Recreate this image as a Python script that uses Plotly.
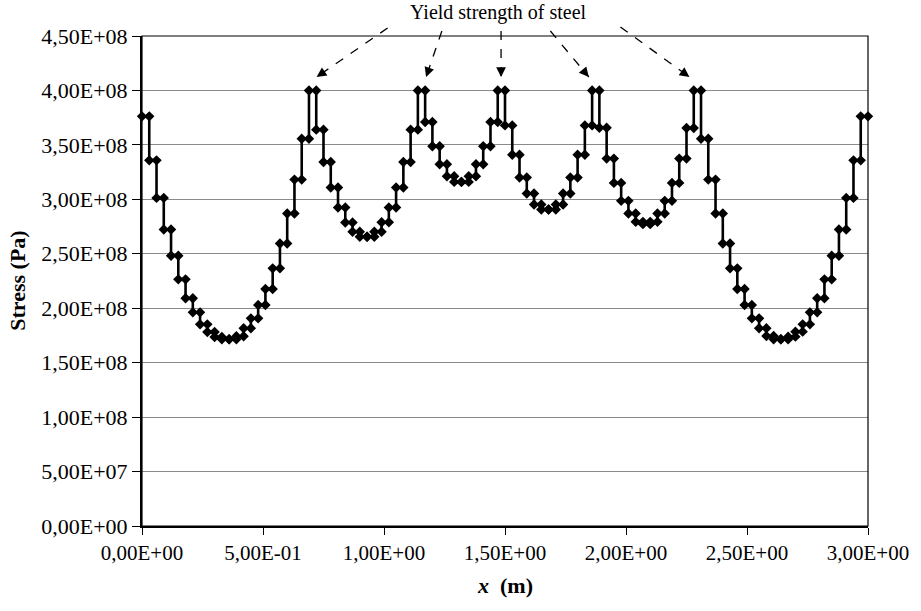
import plotly.graph_objects as go

# Element stresses (MPa) along the beam, one value per 0.03 m element
element_length = 0.03
stress_mpa = [
    376.2, 335.8, 301.3, 272.3, 248.2, 226.5, 209.1, 196.2, 185.2, 178.2,
    173.6, 171.5, 171.5, 174.2, 181.6, 190.7, 203.0, 217.6, 236.6, 259.5,
    287.0, 318.1, 355.7, 400.0, 364.0, 334.3, 310.8, 292.5, 278.7, 270.2,
    265.6, 265.6, 270.2, 279.0, 292.5, 310.8, 334.3, 364.0, 400.0, 371.0,
    348.7, 332.2, 321.2, 316.0, 316.0, 321.2, 332.2, 348.7, 371.0, 400.0,
    367.9, 341.0, 320.0, 305.3, 295.2, 290.6, 290.6, 295.2, 305.3, 320.0,
    341.0, 367.9, 400.0, 365.8, 337.4, 315.1, 298.6, 287.0, 279.3, 277.2,
    279.3, 287.0, 298.6, 315.1, 337.4, 365.5, 400.0, 355.7, 318.1, 287.0,
    259.5, 236.6, 217.6, 203.0, 190.7, 181.6, 174.5, 171.5, 171.5, 173.9,
    178.5, 185.2, 196.2, 209.1, 226.5, 248.2, 272.3, 301.3, 335.8, 376.2,
]
x_nodes = [round(i * element_length, 2) for i in range(len(stress_mpa) + 1)]

x_ticks = [0.0, 0.5, 1.0, 1.5, 2.0, 2.5, 3.0]
y_ticks = [0, 5e7, 1e8, 1.5e8, 2e8, 2.5e8, 3e8, 3.5e8, 4e8, 4.5e8]


def sci_comma(v):
    return f"{v:.2E}".replace(".", ",")


# Piecewise-constant stress: both end nodes of each element carry its value
xs, ys = [], []
for i, s in enumerate(stress_mpa):
    xs += [x_nodes[i], x_nodes[i + 1]]
    ys += [s * 1e6, s * 1e6]

W, H = 921, 611
L, R, T, B = 142, 43, 36, 85
pw, ph = W - L - R, H - T - B
SERIF = "Liberation Serif"


def to_paper(px, py):
    return (px - L) / pw, (T + ph - py) / ph


fig = go.Figure()
fig.add_trace(go.Scatter(
    x=xs, y=ys, mode="lines+markers",
    line=dict(color="black", width=2.6),
    marker=dict(symbol="diamond", size=8, color="black"),
    cliponaxis=False, showlegend=False,
))

# Dashed pointers from the label to the yielded elements
tails = [(391, 28), (446, 31), (506, 31), (556, 31), (627, 27)]
heads = [(319, 77), (430, 77), (506, 77), (595, 77), (697, 77)]
shapes = []
annotations = []
for (tx, ty), (hx, hy) in zip(tails, heads):
    x0, y0 = to_paper(tx, ty)
    x1, y1 = to_paper(hx, hy)
    shapes.append(dict(type="line", xref="paper", yref="paper",
                       x0=x0, y0=y0, x1=x1, y1=y1,
                       line=dict(color="black", width=1.3, dash="dash")))
    dx, dy = tx - hx, ty - hy
    n = (dx * dx + dy * dy) ** 0.5
    annotations.append(dict(xref="paper", yref="paper", x=x1, y=y1,
                            ax=dx / n * 10, ay=dy / n * 10, text="",
                            showarrow=True, arrowhead=2, arrowsize=1.5,
                            arrowwidth=1.3, arrowcolor="black"))

# Plot-area frame
shapes.append(dict(type="rect", xref="paper", yref="paper", x0=0, y0=0, x1=1, y1=1,
                   line=dict(color="black", width=1.2), layer="above"))

tx_, ty_ = to_paper(503, 12)
annotations.append(dict(xref="paper", yref="paper", x=tx_, y=ty_,
                        xanchor="center", yanchor="middle",
                        text="Yield strength of steel", showarrow=False,
                        font=dict(family=SERIF, size=20, color="black")))
ax_, ay_ = to_paper(15, 281)
annotations.append(dict(xref="paper", yref="paper", x=ax_, y=ay_,
                        xanchor="center", yanchor="middle",
                        text="<b>Stress (Pa)</b>", showarrow=False, textangle=-90,
                        font=dict(family=SERIF, size=22, color="black")))
bx_, by_ = to_paper(510, 585)
annotations.append(dict(xref="paper", yref="paper", x=bx_, y=by_,
                        xanchor="center", yanchor="middle",
                        text="<b><i>x</i></b><b>  (m)</b>", showarrow=False,
                        font=dict(family=SERIF, size=22, color="black")))

fig.update_layout(
    width=W, height=H,
    margin=dict(l=L, r=R, t=T, b=B),
    paper_bgcolor="white", plot_bgcolor="white",
    font=dict(family=SERIF, color="black", size=22),
    shapes=shapes, annotations=annotations,
    xaxis=dict(range=[0, 3], tickvals=x_ticks, ticktext=[sci_comma(v) for v in x_ticks],
               showgrid=False, zeroline=False, showline=True, linecolor="black",
               linewidth=2, ticks="outside", ticklen=7, tickcolor="black",
               ticklabeloverflow="allow",
               tickfont=dict(family=SERIF, size=21)),
    yaxis=dict(range=[0, 4.5e8], tickvals=y_ticks, ticktext=[sci_comma(v) for v in y_ticks],
               showgrid=True, gridcolor="#8a8a8a", gridwidth=1, zeroline=False,
               showline=True, linecolor="black", linewidth=2, ticks="outside",
               ticklen=8, tickcolor="black", tickfont=dict(family=SERIF, size=22)),
)

fig.write_html("out.html")
